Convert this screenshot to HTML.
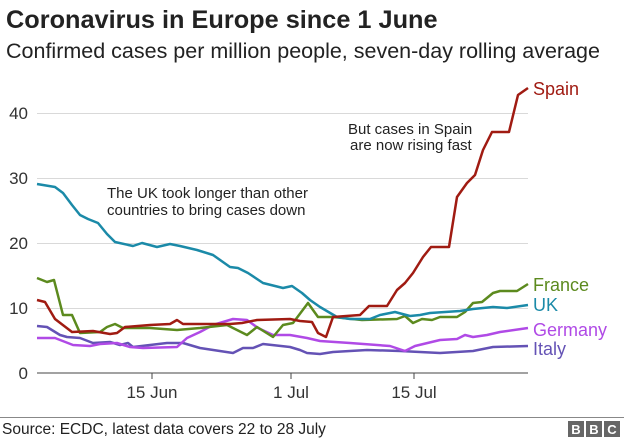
<!DOCTYPE html>
<html><head><meta charset="utf-8"><style>
body{margin:0;background:#fff;font-family:"Liberation Sans",sans-serif;}
</style></head><body>
<svg width="624" height="438" xmlns="http://www.w3.org/2000/svg" font-family="Liberation Sans, sans-serif">
<rect width="624" height="438" fill="#fff"/>
<text x="6" y="28" font-size="25.3" font-weight="bold" fill="#222">Coronavirus in Europe since 1 June</text>
<text x="6" y="58" font-size="21.5" fill="#222">Confirmed cases per million people, seven-day rolling average</text>
<g stroke="#d9d9d9" stroke-width="1">
<line x1="37" x2="528" y1="113.5" y2="113.5"/><line x1="37" x2="528" y1="178.5" y2="178.5"/>
<line x1="37" x2="528" y1="243.5" y2="243.5"/><line x1="37" x2="528" y1="308.5" y2="308.5"/>
</g>
<line x1="37" x2="528" y1="373" y2="373" stroke="#444" stroke-width="1"/>
<g stroke="#444"><line x1="152" x2="152" y1="373" y2="379"/><line x1="291" x2="291" y1="373" y2="379"/><line x1="414" x2="414" y1="373" y2="379"/></g>
<g font-size="17" fill="#333" text-anchor="end">
<text x="28" y="119">40</text><text x="28" y="184">30</text><text x="28" y="249">20</text><text x="28" y="314">10</text><text x="28" y="379">0</text>
</g>
<g font-size="17" fill="#333" text-anchor="middle">
<text x="152" y="398">15 Jun</text><text x="291" y="398">1 Jul</text><text x="414" y="398">15 Jul</text>
</g>
<g fill="none" stroke-width="2.5" stroke-linejoin="round">
<polyline stroke="#6452b5" points="37,326 47,327 60,335 67,337 80,338 93,343 110,342 120,345 128,343 133,347 150,345 167,343 183,343 200,348 233,353 243,348 253,348 263,344 290,347 300,350 307,353 320,354 333,352 367,350 400,351 440,353 473,351 493,347 528,346"/>
<polyline stroke="#b04ae6" points="37,338 55,338 73,345 90,346 100,344 117,343 130,347 143,348 177,347 187,338 200,332 213,325 233,319 247,320 258,328 273,335 290,335 307,338 320,341 350,343 390,346 405,351 415,346 440,340 457,339 465,335 473,337 487,335 500,332 528,328"/>
<polyline stroke="#5c8a1e" points="37,278 47,282 54,280 63,315 72,315 80,333 100,332 107,327 115,324 123,328 150,328 177,330 200,328 227,325 247,335 257,327 273,337 283,325 293,323 308,303 318,317 333,317 362,320 397,319 405,316 413,323 422,319 432,320 440,317 457,317 465,312 473,303 482,302 493,293 500,291 517,291 528,284"/>
<polyline stroke="#1b8aa8" points="37,184 55,187 63,193 72,205 80,215 88,219 98,223 107,234 115,242 133,246 142,243 157,247 170,244 180,246 197,250 213,255 230,267 238,268 248,273 263,283 283,288 292,286 302,293 310,300 320,307 337,317 350,319 370,319 380,315 395,312 410,316 420,315 430,313 460,311 473,309 493,307 507,308 528,305"/>
<polyline stroke="#a01b12" points="37,300 45,302 55,319 72,332 93,331 110,334 117,333 125,327 150,325 170,324 177,320 183,324 230,324 242,323 257,320 290,319 300,321 312,322 318,333 326,337 333,317 360,315 369,306 387,306 397,290 405,283 413,273 423,257 431,247 449,247 457,197 467,183 475,175 483,150 492,132 509,132 518,95 528,88"/>
</g>
<g font-size="18">
<text x="533" y="95" fill="#a01b12">Spain</text>
<text x="533" y="291" fill="#5c8a1e">France</text>
<text x="533" y="311" fill="#1b8aa8">UK</text>
<text x="533" y="336" fill="#b04ae6">Germany</text>
<text x="533" y="355" fill="#6452b5">Italy</text>
</g>
<g font-size="15" fill="#222">
<text x="107" y="198">The UK took longer than other</text>
<text x="107" y="215">countries to bring cases down</text>
<text x="348" y="134">But cases in Spain</text>
<text x="350" y="150">are now rising fast</text>
</g>
<line x1="0" x2="624" y1="417.5" y2="417.5" stroke="#888"/>
<text x="2" y="434" font-size="15.5" fill="#222">Source: ECDC, latest data covers 22 to 28 July</text>
<g fill="#666"><rect x="568" y="421" width="16" height="16"/><rect x="586" y="421" width="16" height="16"/><rect x="604" y="421" width="16" height="16"/></g>
<g fill="#fff" font-size="13" font-weight="bold" text-anchor="middle"><text x="576" y="434">B</text><text x="594" y="434">B</text><text x="612" y="434">C</text></g>
</svg>
</body></html>
